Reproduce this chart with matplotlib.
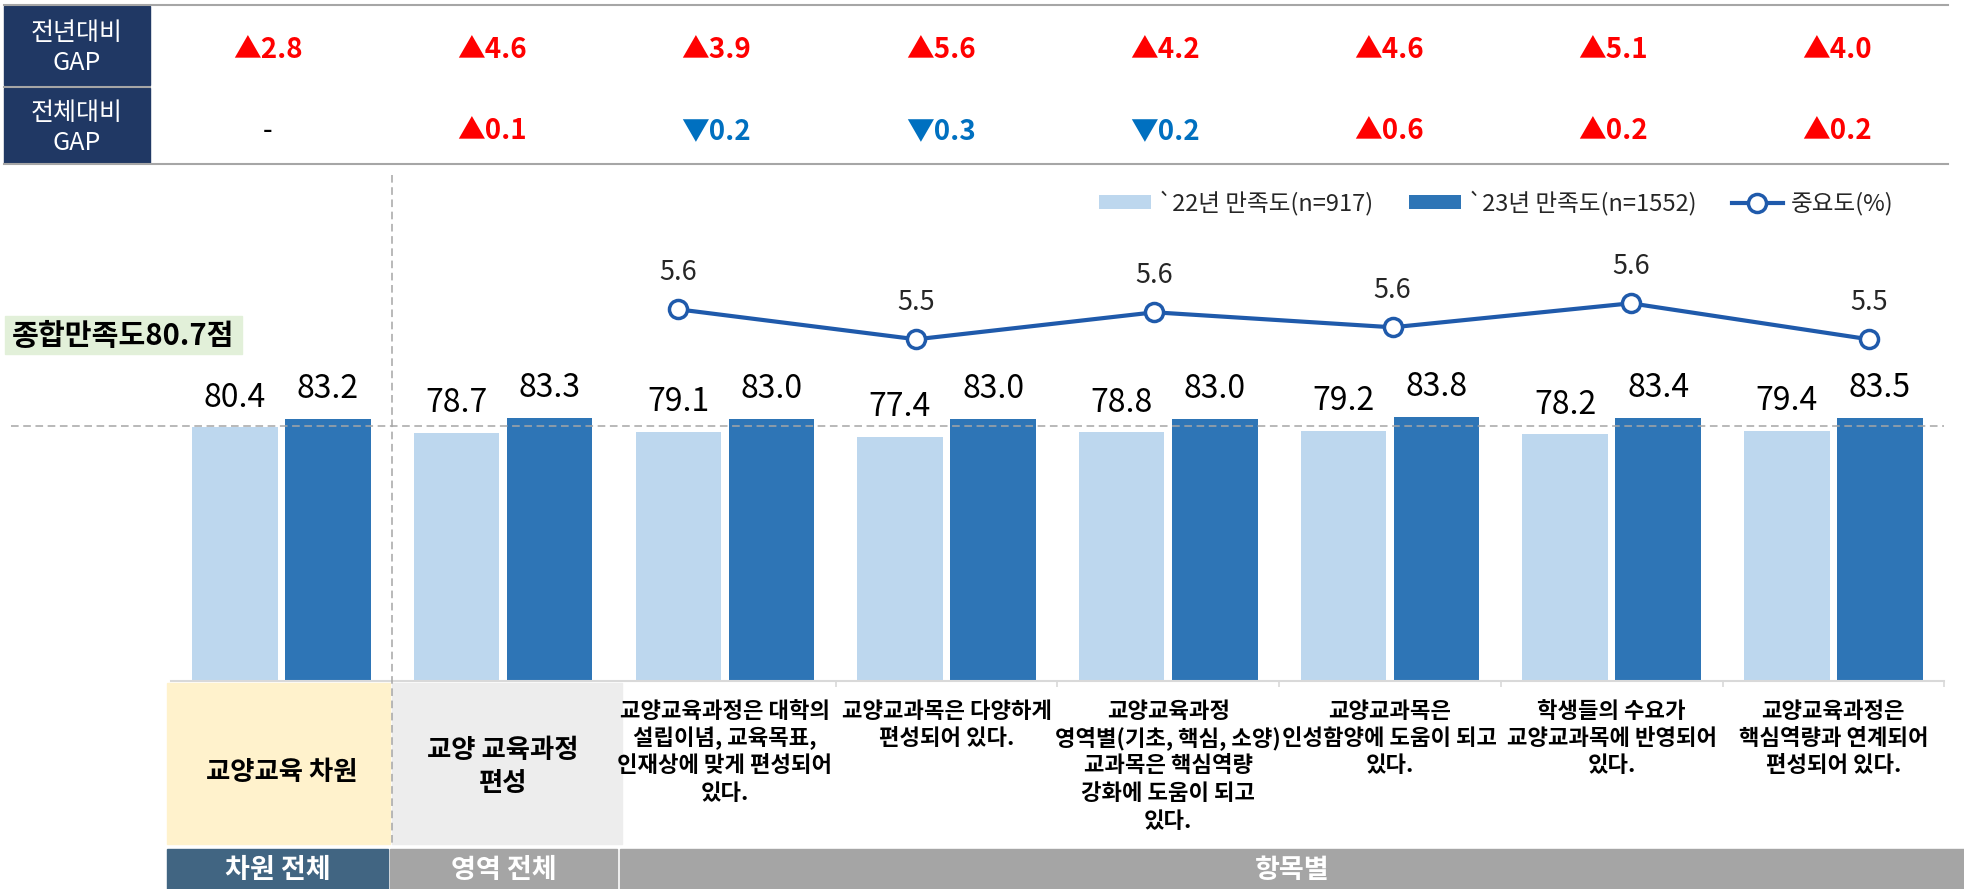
import matplotlib
matplotlib.use('Agg')
import matplotlib.pyplot as plt
import matplotlib.transforms as mtransforms
from matplotlib.patches import Rectangle
import numpy as np

plt.rcParams['font.family'] = ['Noto Sans CJK KR', 'DejaVu Sans']

# ---- data ----
categories = ['교양교육 차원',
              '교양 교육과정\n편성',
              '교양교육과정은 대학의\n설립이념, 교육목표,\n인재상에 맞게 편성되어\n있다.',
              '교양교과목은 다양하게\n편성되어 있다.',
              '교양교육과정\n영역별(기초, 핵심, 소양)\n교과목은 핵심역량\n강화에 도움이 되고\n있다.',
              '교양교과목은\n인성함양에 도움이 되고\n있다.',
              '학생들의 수요가\n교양교과목에 반영되어\n있다.',
              '교양교육과정은\n핵심역량과 연계되어\n편성되어 있다.']
sat_2022 = [80.4, 78.7, 79.1, 77.4, 78.8, 79.2, 78.2, 79.4]
sat_2023 = [83.2, 83.3, 83.0, 83.0, 83.0, 83.8, 83.4, 83.5]
importance = [5.62, 5.52, 5.61, 5.56, 5.64, 5.52]   # items only
gap_prev = [2.8, 4.6, 3.9, 5.6, 4.2, 4.6, 5.1, 4.0]
gap_total = [None, 0.1, -0.2, -0.3, -0.2, 0.6, 0.2, 0.2]
total_score = 80.7
row_headers = ['전년대비\nGAP', '전체대비\nGAP']
group_labels = ['차원 전체', '영역 전체', '항목별']
legend_labels = ['`22년 만족도(n=917)', '`23년 만족도(n=1552)', '중요도(%)']

c_light = '#BDD7EE'
c_dark = '#2E75B6'
c_line = '#1F5AAB'
c_red = '#FF0000'
c_blue = '#0070C0'
c_navy = '#203864'
c_grid = '#A6A6A6'

W, H = 1964, 889
fig = plt.figure(figsize=(W / 100, H / 100), dpi=100)


def fx(px):
    return px / W


def fy(py):
    return 1 - py / H


# background / layout axes in pixel coords
bg = fig.add_axes([0, 0, 1, 1], zorder=0)
bg.set_xlim(0, W)
bg.set_ylim(H, 0)
bg.axis('off')

# bar axes
ax_l, ax_r, ax_t, ax_b = 170.6, 1944.2, 365.6, 681
ax = fig.add_axes([fx(ax_l), fy(ax_b), (ax_r - ax_l) / W, (ax_b - ax_t) / H], zorder=1)
ax.patch.set_visible(False)
n = len(categories)
x = np.arange(n)
ax.set_xlim(-0.5, n - 0.5)
ax.set_ylim(0, 100)
b1 = ax.bar(x - 0.21, sat_2022, width=0.386, color=c_light, zorder=2)
b2 = ax.bar(x + 0.21, sat_2023, width=0.386, color=c_dark, zorder=2)
for xi, v in zip(x - 0.21, sat_2022):
    ax.annotate(f'{v:.1f}', (xi, v), xytext=(0, 15), textcoords='offset points',
                ha='center', va='baseline', fontsize=23, color='black')
for xi, v in zip(x + 0.21, sat_2023):
    ax.annotate(f'{v:.1f}', (xi, v), xytext=(0, 15), textcoords='offset points',
                ha='center', va='baseline', fontsize=23, color='black')

for s in ['top', 'left', 'right']:
    ax.spines[s].set_visible(False)
ax.spines['bottom'].set_color('#D9D9D9')
ax.spines['bottom'].set_linewidth(1.5)
ax.set_yticks([])
ax.set_xticks(np.arange(3, n + 1) - 0.5)
ax.set_xticklabels([])
ax.tick_params(axis='x', length=4, color='#D9D9D9', width=1.2, direction='out')

# total score reference line
x_left = -0.5 - (ax_l - 11) / ((ax_r - ax_l) / n)
ax.plot([x_left, n - 0.5], [total_score, total_score], ls=(0, (5, 3)), lw=1.1,
        color=c_grid, clip_on=False, zorder=3)
bg.add_patch(Rectangle((5, 316), 237, 38, color='#E2F0D9', zorder=1))
bg.text(123, 336, f'종합만족도{total_score}점', ha='center', va='center',
        fontsize=21, fontweight='bold', color='black', zorder=2)

# vertical separator (pixel y, data x)
blend = mtransforms.blended_transform_factory(ax.transData, bg.transData)
ax.plot([0.5, 0.5], [175, 846], transform=blend, ls=(0, (5, 3)), lw=1.1,
        color=c_grid, clip_on=False, zorder=3)

# importance line (own axes)
ax2 = fig.add_axes([fx(440), fy(400), (1940 - 440) / W, (400 - 250) / H], zorder=2)
ax2.patch.set_visible(False)
ax2.axis('off')
ax2.set_xlim((440 - 678) / 238.2, (1940 - 678) / 238.2)
ax2.set_ylim(5.56 - (400 - 327.3) / 300, 5.56 + (327.3 - 250) / 300)
xi2 = np.arange(len(importance))
ln, = ax2.plot(xi2, importance, color=c_line, lw=3, marker='o', ms=13,
               mfc='white', mec=c_line, mew=2.5)
for xx, v in zip(xi2, importance):
    ax2.annotate(f'{v:.1f}', (xx, v), xytext=(0, 21), textcoords='offset points',
                 ha='center', va='baseline', fontsize=19.5, color='#262626')

# legend
ax.legend([b1, b2, ln], legend_labels, loc='center left',
          bbox_to_anchor=(fx(1099), fy(203)), bbox_transform=fig.transFigure,
          ncol=3, frameon=False, fontsize=17, handlelength=2.2, handleheight=0.5,
          handletextpad=0.3, columnspacing=1.5, borderpad=0, borderaxespad=0,
          labelcolor='#262626')

# ---- GAP table ----
bg.plot([4, 1948], [5, 5], color=c_grid, lw=1.5)
bg.plot([4, 1948], [164, 164], color=c_grid, lw=1.5)
bg.plot([4, 150], [86.5, 86.5], color=c_grid, lw=1.5)
bg.add_patch(Rectangle((4, 6), 146, 79, color=c_navy))
bg.add_patch(Rectangle((4, 88), 146, 75, color=c_navy))


def multiline(axis, xc, yc, text, pitch, transform=None, **kw):
    lines = text.split('\n')
    y0 = yc - pitch * (len(lines) - 1) / 2
    for k, line in enumerate(lines):
        axis.text(xc, y0 + k * pitch, line, ha='center', va='center',
                  transform=transform if transform is not None else axis.transData, **kw)


multiline(bg, 77, 48, row_headers[0], 30, fontsize=18, color='white')
multiline(bg, 77, 128, row_headers[1], 30, fontsize=18, color='white')

for i in range(n):
    xc = 268 + 224.2 * i
    v = gap_prev[i]
    bg.text(xc, 50, ('▲' if v >= 0 else '▼') + f'{abs(v):.1f}', ha='center', va='center',
            fontsize=20, fontweight='bold', color=c_red if v >= 0 else c_blue)
    v = gap_total[i]
    if v is None:
        bg.text(xc, 131, '-', ha='center', va='center', fontsize=20, color='black')
    else:
        bg.text(xc, 131, ('▲' if v >= 0 else '▼') + f'{abs(v):.1f}', ha='center',
                va='center', fontsize=20, fontweight='bold',
                color=c_red if v >= 0 else c_blue)

# ---- category label row ----
bg.add_patch(Rectangle((167, 683), 223, 161, color='#FFF2CC'))
bg.add_patch(Rectangle((392, 683), 230, 161, color='#EDEDED'))
bg.add_patch(Rectangle((167, 849), 221, 40, color='#416582'))
bg.add_patch(Rectangle((390, 849), 227, 40, color='#A5A5A5'))
bg.add_patch(Rectangle((620, 849), 1344, 40, color='#A5A5A5'))

multiline(bg, 0, 772, categories[0], 32, transform=blend, fontsize=19,
          fontweight='bold', color='black')
multiline(bg, 1, 767, categories[1], 33, transform=blend, fontsize=19,
          fontweight='bold', color='black')
for i in range(2, n):
    lines = categories[i].split('\n')
    for k, line in enumerate(lines):
        bg.text(i, 711 + 27.5 * k, line, transform=blend, ha='center', va='center',
                fontsize=16, fontweight='bold', color='black')

bg.text(278, 870, group_labels[0], ha='center', va='center', fontsize=19.5,
        fontweight='bold', color='white')
bg.text(504, 870, group_labels[1], ha='center', va='center', fontsize=19.5,
        fontweight='bold', color='white')
bg.text(1292, 870, group_labels[2], ha='center', va='center', fontsize=19.5,
        fontweight='bold', color='white')

fig.savefig('out.png', dpi=100)
